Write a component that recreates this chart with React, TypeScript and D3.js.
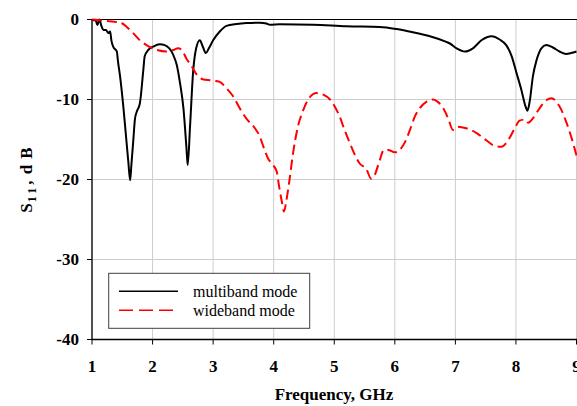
import React from "react";
import * as d3 from "d3";

const freqMulti = [1.0,1.03,1.06,1.09,1.12,1.16,1.19,1.23,1.27,1.3,1.32,1.35,1.41,1.43,1.46,1.52,1.57,1.6,1.63,1.65,1.68,1.71,1.74,1.79,1.85,1.87,1.93,2.01,2.12,2.2,2.34,2.4,2.45,2.51,2.56,2.58,2.62,2.67,2.72,2.78,2.83,2.88,2.93,3.0,3.11,3.22,3.39,3.55,3.77,3.88,3.94,4.1,4.65,5.2,5.75,6.03,6.3,6.58,6.85,6.91,7.02,7.16,7.29,7.43,7.6,7.73,7.84,7.93,8.01,8.09,8.16,8.19,8.23,8.28,8.34,8.42,8.5,8.61,8.72,8.83,8.91,9.0];
const s11Multi = [0,-0.1,-0.1,-0.7,0,-0.9,-1.3,-1.3,-1.7,-1.5,-2.6,-3.4,-4.0,-5.3,-6.9,-11.1,-15.3,-17.8,-20.1,-18.2,-15.3,-12.4,-11.5,-10.5,-6.1,-4.6,-3.8,-3.4,-3.1,-3.2,-4.4,-5.7,-7.8,-11.1,-16.1,-18.2,-13.2,-6.5,-3.6,-2.6,-3.4,-4.2,-3.6,-2.6,-1.5,-0.8,-0.56,-0.45,-0.4,-0.5,-0.65,-0.6,-0.65,-0.85,-0.94,-1.2,-1.6,-2.1,-2.8,-3.0,-3.6,-4.0,-3.6,-2.6,-2.1,-2.5,-3.2,-4.6,-6.7,-8.8,-10.9,-11.4,-10.1,-7.1,-5.1,-3.6,-3.2,-3.5,-4.0,-4.3,-4.2,-4.0];

const freqWide = [1.0,1.1,1.25,1.4,1.46,1.57,1.68,1.79,1.9,2.07,2.23,2.35,2.42,2.48,2.56,2.65,2.73,2.84,2.95,3.05,3.11,3.22,3.33,3.44,3.55,3.69,3.77,3.83,3.91,3.99,4.05,4.09,4.13,4.17,4.21,4.26,4.32,4.4,4.49,4.57,4.71,4.82,4.93,5.01,5.09,5.17,5.26,5.34,5.42,5.53,5.61,5.67,5.75,5.82,5.89,6.0,6.08,6.17,6.25,6.33,6.41,6.52,6.63,6.71,6.8,6.88,6.96,7.04,7.18,7.35,7.51,7.65,7.76,7.87,7.98,8.06,8.15,8.2,8.28,8.39,8.5,8.59,8.67,8.75,8.83,8.91,9.0];
const s11Wide = [0,-0.05,-0.2,-0.3,-0.35,-0.9,-1.7,-2.6,-3.2,-3.8,-4.0,-3.8,-3.6,-3.8,-4.9,-5.9,-6.9,-7.5,-7.6,-7.7,-7.8,-8.6,-9.6,-11.1,-12.4,-13.6,-14.6,-15.9,-17.4,-18.2,-19.0,-20.9,-22.6,-24.0,-22.6,-20.1,-16.7,-13.4,-11.3,-10.0,-9.2,-9.4,-10.0,-10.9,-12.15,-13.8,-15.5,-16.9,-18.0,-18.7,-19.9,-19.4,-17.6,-16.3,-16.3,-16.6,-16.3,-15.3,-13.8,-12.15,-11.1,-10.3,-10.0,-10.3,-11.1,-12.35,-13.8,-13.4,-13.6,-14.2,-15.1,-15.8,-15.9,-15.1,-13.6,-12.65,-12.5,-12.9,-12.35,-11.1,-10.1,-9.85,-10.3,-11.3,-12.8,-14.6,-17.0];

const xTicks = [1, 2, 3, 4, 5, 6, 7, 8, 9];
const yTicks = [0, -10, -20, -30, -40];
const seriesNames = ["multiband mode", "wideband mode"];

const W = 577;
const H = 406;
const L = 92, R = 576.5, T = 19.5, B = 339.5;
const serif = "'Liberation Serif', 'Times New Roman', serif";

export default function App() {
  const x = d3.scaleLinear().domain([1, 9]).range([L, R]);
  const y = d3.scaleLinear().domain([-40, 0]).range([B, T]);
  const line = d3
    .line<[number, number]>()
    .x((d) => x(d[0]))
    .y((d) => y(d[1]))
    .curve(d3.curveMonotoneX);
  const multi = freqMulti.map((f, i) => [f, s11Multi[i]] as [number, number]);
  const wide = freqWide.map((f, i) => [f, s11Wide[i]] as [number, number]);

  return (
    <svg
      width={W}
      height={H}
      style={{ position: "absolute", left: 0, top: 0, background: "#fff" }}
    >
      <defs>
        <clipPath id="plot">
          <rect x={L} y={T - 2} width={R - L + 2} height={B - T + 4} />
        </clipPath>
      </defs>
      {/* grid */}
      {xTicks.map((t) => (
        <line key={"gx" + t} x1={x(t)} x2={x(t)} y1={T} y2={B} stroke="#cccccc" strokeWidth={1} />
      ))}
      {yTicks.map((t) => (
        <line key={"gy" + t} x1={L} x2={R} y1={y(t)} y2={y(t)} stroke="#cccccc" strokeWidth={1} />
      ))}
      {/* top border */}
      <line x1={L} x2={W} y1={T} y2={T} stroke="#000" strokeWidth={1} />
      {/* axes */}
      <line x1={L} x2={L} y1={T} y2={B} stroke="#000" strokeWidth={1.3} />
      <line x1={L} x2={W} y1={B} y2={B} stroke="#000" strokeWidth={1.3} />
      {yTicks.map((t) => (
        <g key={"yt" + t}>
          <line x1={L - 5} x2={L} y1={y(t)} y2={y(t)} stroke="#000" strokeWidth={1} />
          <text
            x={L - 13}
            y={y(t)}
            dy="0.35em"
            textAnchor="end"
            fontFamily={serif}
            fontWeight="bold"
            fontSize={17}
          >
            {t}
          </text>
        </g>
      ))}
      {xTicks.map((t) => (
        <g key={"xt" + t}>
          <line x1={x(t)} x2={x(t)} y1={B} y2={B + 5} stroke="#000" strokeWidth={1} />
          <text
            x={x(t)}
            y={372}
            textAnchor="middle"
            fontFamily={serif}
            fontWeight="bold"
            fontSize={17}
          >
            {t}
          </text>
        </g>
      ))}
      {/* series */}
      <g clipPath="url(#plot)">
        <path d={line(multi) || ""} fill="none" stroke="#000" strokeWidth={2} />
        <path
          d={line(wide) || ""}
          fill="none"
          stroke="#ff0000"
          strokeWidth={2}
          strokeDasharray="10,5"
        />
      </g>
      {/* legend */}
      <rect x={108.7} y={273.3} width={201} height={55} fill="#fff" stroke="#404040" strokeWidth={1} />
      <line x1={119} x2={178} y1={291.3} y2={291.3} stroke="#000" strokeWidth={1.5} />
      <line x1={119} x2={178} y1={310.3} y2={310.3} stroke="#ff0000" strokeWidth={1.5} strokeDasharray="14,6" />
      <text x={193} y={291.3} dy="0.35em" fontFamily={serif} fontSize={16}>
        {seriesNames[0]}
      </text>
      <text x={193} y={310.3} dy="0.35em" fontFamily={serif} fontSize={16}>
        {seriesNames[1]}
      </text>
      {/* axis titles */}
      <text
        x={334}
        y={400}
        textAnchor="middle"
        fontFamily={serif}
        fontWeight="bold"
        fontSize={17}
      >
        Frequency, GHz
      </text>
      <text
        transform={`translate(32, ${(T + B) / 2}) rotate(-90)`}
        textAnchor="middle"
        fontFamily={serif}
        fontWeight="bold"
        fontSize={17}
        letterSpacing={1}
      >
        S<tspan fontSize={12} dy={4} letterSpacing={3}>11</tspan>
        <tspan dy={-4}>, d B</tspan>
      </text>
    </svg>
  );
}
